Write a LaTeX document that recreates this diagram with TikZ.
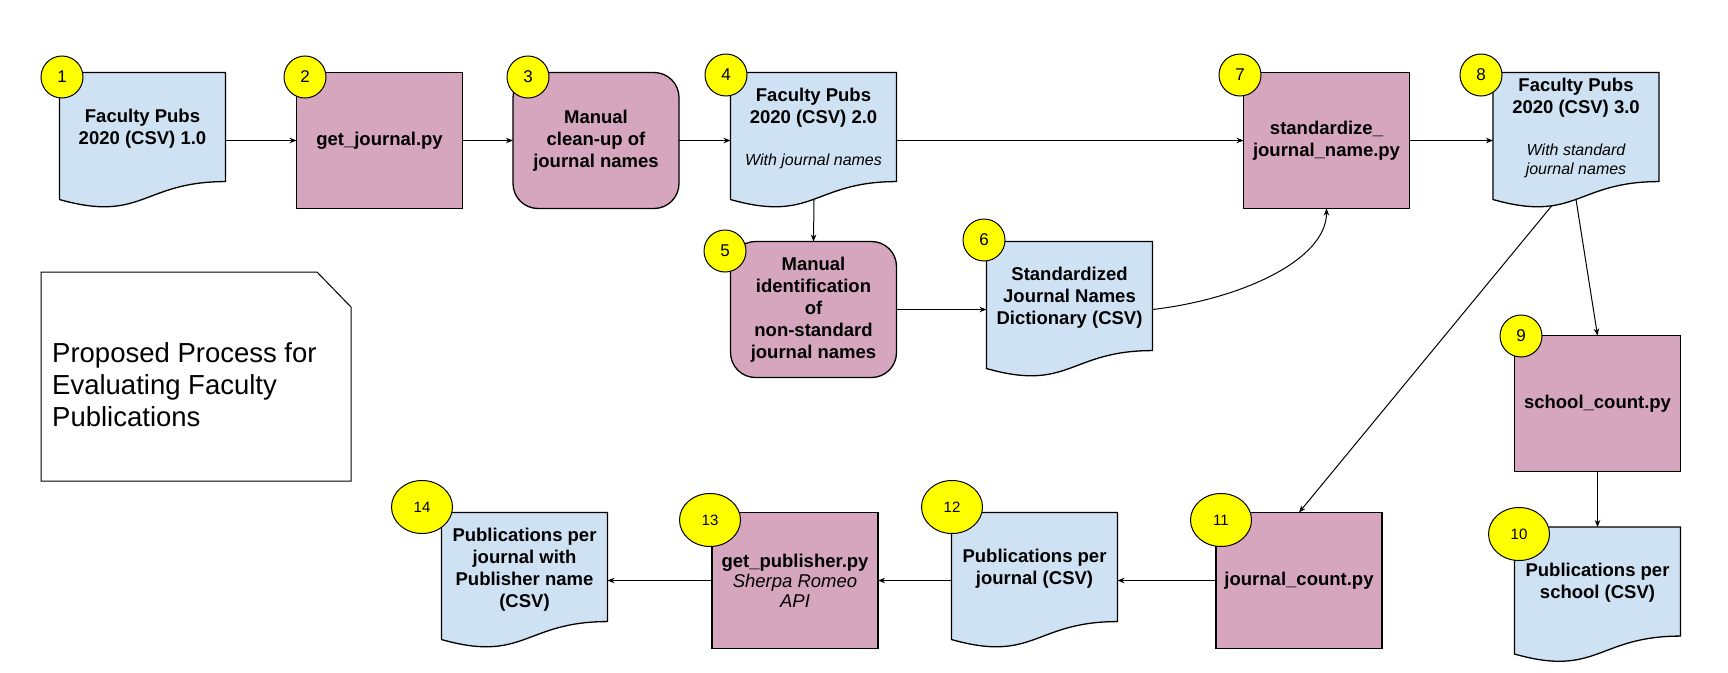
\documentclass[tikz,border=0pt]{standalone}
\usepackage{fontspec}
\setmainfont{Liberation Sans}
\usetikzlibrary{calc,arrows.meta,shapes.geometric}
\definecolor{bluec}{HTML}{CFE2F3}
\definecolor{pinkc}{HTML}{D5A6BD}
\definecolor{yelc}{HTML}{FFFF00}
\newcommand\bfnt{\fontsize{18.5}{22}\selectfont\bfseries}
\newcommand\itfnt{\fontsize{16}{19}\selectfont\itshape}
\newcommand\numfnt{\fontsize{17}{20}\selectfont}
\newcommand\numfntb{\fontsize{15}{18}\selectfont}
\newcommand\drawdocshape[1]{%
  \path[docsty] (#1.north west) -- (#1.north east)
    -- ($(#1.north east)!0.802!(#1.south east)$)
    .. controls ($(#1.north)!0.802!(#1.south)$) and ($(#1.north)!1.1075!(#1.south)$)
    .. ($(#1.north west)!0.934!(#1.south west)$) -- cycle;}
\tikzset{
  shp/.style={minimum width=166pt, minimum height=136pt, inner sep=0pt, outer sep=0pt},
  proc/.style={shp, draw, fill=pinkc, line width=1.3pt, font=\bfnt, align=center},
  rproc/.style={proc, rounded corners=25pt},
  docn/.style={shp},
  docsty/.style={draw, fill=bluec, line width=1.3pt},
  lbl/.style={font=\bfnt, align=center, inner sep=0pt},
  ilbl/.style={font=\itfnt, align=center, inner sep=0pt},
  num/.style={circle, draw, fill=yelc, minimum size=42pt, inner sep=0pt, line width=1pt, font=\numfnt},
  numb/.style={ellipse, draw, fill=yelc, minimum width=61pt, minimum height=53pt, inner sep=0pt, line width=1pt, font=\numfntb},
  arr/.style={-{Stealth[length=7pt,width=5.5pt]}, line width=1pt},
  notesty/.style={draw, fill=white, line width=1pt}
}
\begin{document}
\begin{tikzpicture}[x=1pt,y=-1pt]
\fill[white] (0,0) rectangle (1728,672);
\useasboundingbox (0,0) rectangle (1728,672);

% note box
\path[notesty] (41,272) -- (317,272) -- (351,307) -- (351,481) -- (41,481) -- cycle;
\node[anchor=north west, inner sep=0pt, align=left, font=\fontsize{27.5}{32}\selectfont] (note) at (52,342)
  {Proposed Process for\\Evaluating Faculty\\Publications};

% document-shaped nodes (outline drawn below)
\node[docn] (n1) at (142.5,140.5) {};
\node[docn] (n4) at (813.5,140.5) {};
\node[docn] (n8) at (1576,140.5) {};
\node[docn] (n6) at (1069.5,309.5) {};
\node[docn] (n10) at (1597.5,595) {};
\node[docn] (n12) at (1034.5,580.5) {};
\node[docn] (n14) at (524.5,580.5) {};
\drawdocshape{n1}
\drawdocshape{n4}
\drawdocshape{n8}
\drawdocshape{n6}
\drawdocshape{n10}
\drawdocshape{n12}
\drawdocshape{n14}

% texts of document shapes
\node[lbl] (t1) at (142.5,129) {Faculty Pubs\\2020 (CSV) 1.0};
\node[lbl] (t4) at (813.5,108) {Faculty Pubs\\2020 (CSV) 2.0};
\node[ilbl] (t4i) at (813.5,161) {With journal names};
\node[lbl] (t8) at (1576,98) {Faculty Pubs\\2020 (CSV) 3.0};
\node[ilbl] (t8i) at (1576,160.5) {With standard\\journal names};
\node[lbl] (t6) at (1069.5,298) {Standardized\\Journal Names\\Dictionary (CSV)};
\node[lbl] (t10) at (1597.5,583) {Publications per\\school (CSV)};
\node[lbl] (t12) at (1034.5,569) {Publications per\\journal (CSV)};
\node[lbl] (t14) at (524.5,570) {Publications per\\journal with\\Publisher name\\(CSV)};

% process nodes
\node[proc] (n2) at (379.5,140.5) {get\_journal.py};
\node[rproc] (n3) at (596,140.5) {Manual\\clean-up of\\journal names};
\node[proc] (n7) at (1326.5,140.5) {standardize\_\\journal\_name.py};
\node[rproc] (n5) at (813.5,309.5) {Manual\\identification\\of\\non-standard\\journal names};
\node[proc] (n9) at (1597.5,403.5) {school\_count.py};
\node[proc] (n11) at (1299,580.5) {journal\_count.py};
\node[proc, font=\fontsize{18.5}{20}\selectfont\bfseries] (n13) at (795,580.5)
  {get\_publisher.py\\{\mdseries\itshape Sherpa Romeo}\\{\mdseries\itshape API}};

% number badges
\node[num] (c1) at (62,77) {1};
\node[num] (c2) at (305,77) {2};
\node[num] (c3) at (528,77) {3};
\node[num] (c4) at (726,75) {4};
\node[num] (c7) at (1240,75) {7};
\node[num] (c8) at (1481,75) {8};
\node[num] (c5) at (725,251) {5};
\node[num] (c6) at (984,240) {6};
\node[num] (c9) at (1521,336) {9};
\node[numb] (c10) at (1519,534) {10};
\node[numb] (c11) at (1221,520) {11};
\node[numb] (c12) at (952,507) {12};
\node[numb] (c13) at (710,520) {13};
\node[numb] (c14) at (422,507) {14};

% connector start points on the wavy bottoms
\coordinate (s4) at ($(n4.north west)+(83.5,127)$);
\coordinate (s8a) at ($(n8.north west)+(59,133)$);
\coordinate (s8b) at ($(n8.north west)+(83,127)$);

% connectors
\draw[arr] (n1.east) -- (n2.west);
\draw[arr] (n2.east) -- (n3.west);
\draw[arr] (n3.east) -- (n4.west);
\draw[arr] (n4.east) -- (n7.west);
\draw[arr] (n7.east) -- (n8.west);
\draw[arr] (s4) -- (n5.north);
\draw[arr] (n5.east) -- (n5.east -| n6.west);
\draw[arr] (n6.east) .. controls +(87,-10) and ($(n7.south)+(0,52)$) .. (n7.south);
\draw[arr] (s8a) -- (n11.north);
\draw[arr] (s8b) -- (n9.north);
\draw[arr] (n9.south) -- (n10.north);
\draw[arr] (n11.west) -- (n11.west -| n12.east);
\draw[arr] (n12.west) -- (n12.west -| n13.east);
\draw[arr] (n13.west) -- (n13.west -| n14.east);
\end{tikzpicture}
\end{document}
